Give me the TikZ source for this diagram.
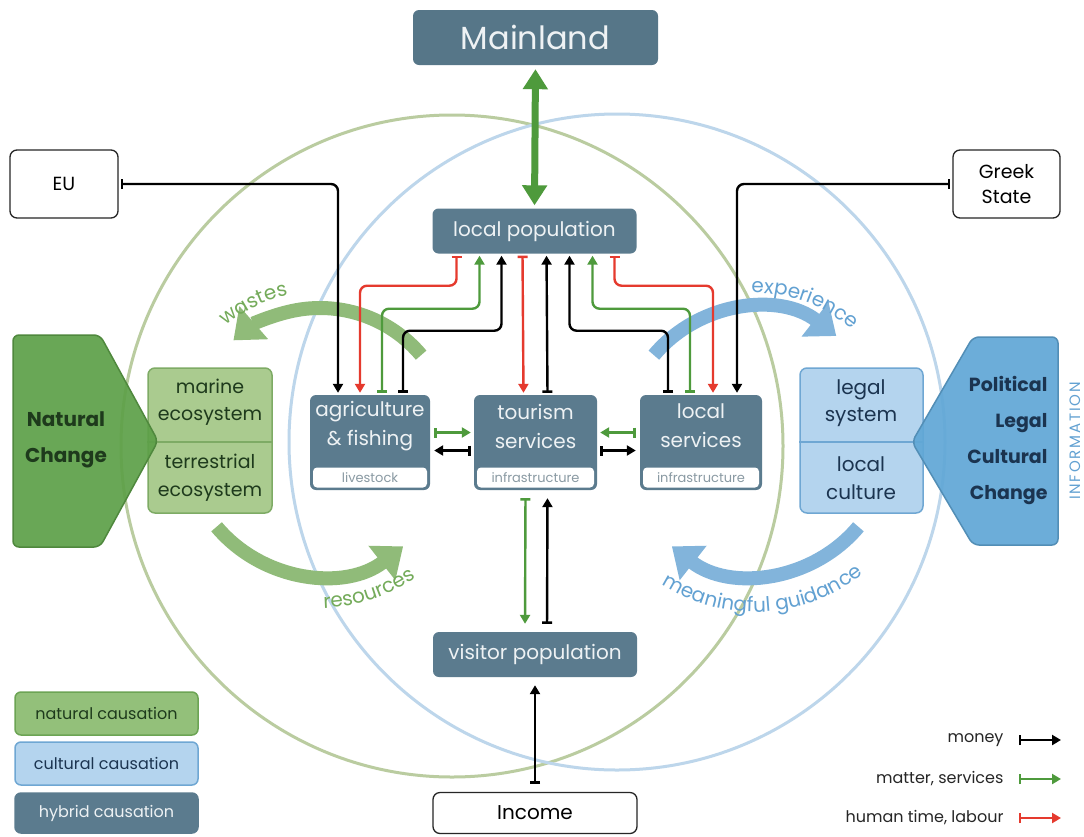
\documentclass[tikz,border=0pt]{standalone}
\usepackage{fontspec}
\setmainfont{Poppins}
\usetikzlibrary{arrows.meta,decorations.text,calc}
\definecolor{slate}{HTML}{5B7B8E}
\definecolor{slateD}{HTML}{567688}
\definecolor{agreen}{HTML}{4E9A3C}
\definecolor{ared}{HTML}{E53A2E}
\definecolor{bigG}{HTML}{90BB79}
\definecolor{bigB}{HTML}{82B4DB}
\definecolor{circG}{HTML}{BACCA0}
\definecolor{circB}{HTML}{BDD6EB}
\definecolor{natF}{HTML}{5DA048}
\definecolor{natD}{HTML}{1E3A1C}
\definecolor{ecoF}{HTML}{AACB8F}
\definecolor{ecoB}{HTML}{7EAB65}
\definecolor{polF}{HTML}{60A7D6}
\definecolor{polD}{HTML}{1B3450}
\definecolor{legF}{HTML}{B4D4EE}
\definecolor{legB}{HTML}{6FA7D3}
\definecolor{gtext}{HTML}{74AB5A}
\definecolor{btext}{HTML}{62A1D2}
\definecolor{lnatF}{HTML}{93C07A}
\definecolor{lnatB}{HTML}{6CA454}
\definecolor{greyT}{HTML}{8A9AA3}
\definecolor{lightT}{HTML}{EEF2F4}
\begin{document}
\begin{tikzpicture}[x=1pt,y=-1pt,
  hyb/.style={fill=slate, rounded corners=6pt, inner sep=0pt, text=lightT, align=center},
  strip/.style={fill=white, rounded corners=4pt, inner sep=0pt, minimum height=20pt, text=greyT, font=\fontsize{13}{13}\selectfont},
  wbox/.style={draw=black!85, line width=1.3pt, fill=white, rounded corners=7pt, inner sep=0pt, align=center},
  btxt/.style={font=\fontsize{20}{29}\selectfont, text=lightT, align=center},
  conn/.style={line width=2.4pt, rounded corners=7pt, shorten <=2pt, shorten >=2pt},
  fw/.style={conn, arrows={Bar[width=10pt]-Triangle[width=10pt,length=9pt]}},
  rv/.style={conn, arrows={Triangle[width=10pt,length=9pt]-Bar[width=10pt]}},
  bigarrG/.style={line width=14pt, draw=bigG, -{Triangle[width=42pt,length=27pt]}},
  bigarrB/.style={line width=14pt, draw=bigB, -{Triangle[width=42pt,length=27pt]}},
  legt/.style={anchor=east, text=black!85, font=\fontsize{16}{16}\selectfont},
  legbox/.style={rounded corners=6pt, line width=1.5pt, minimum width=183pt, inner sep=0pt, font=\fontsize{16}{16}\selectfont}
]
\useasboundingbox (0,0) rectangle (1084,836);
\fill[white] (0,0) rectangle (1084,836);

% circles
\coordinate (cG) at (452,446);
\coordinate (cB) at (617,442);
\draw[circG, line width=3pt] (cG) circle[radius=331];
\draw[circB, line width=3pt] (cB) circle[radius=328];

% big curved arrows
\coordinate (cL) at (320,440);
\coordinate (cR) at (755,440);
\draw[bigarrG] ($(cL)+(-40:132)$) arc (-40:-131:132);
\draw[bigarrG] ($(cL)+(-220:135)$) arc (-220:-308:135);
\draw[bigarrB] ($(cR)+(-140:132)$) arc (-140:-52:132);
\draw[bigarrB] ($(cR)+(40:135)$) arc (40:128:135);

\path[decorate, decoration={text along path, text align=center,
  text={|\fontsize{20}{20}\selectfont\color{gtext}|wastes}}]
  ($(cL)+(-146:148)$) arc (-146:-86:148);
\path[decorate, decoration={text along path, text align=center,
  text={|\fontsize{20}{20}\selectfont\color{gtext}|resources}}]
  ($(cL)+(-254:168)$) arc (-254:-322:168);
\path[decorate, decoration={text along path, text align=center,
  text={|\fontsize{20}{20}\selectfont\color{btext}|experience}}]
  ($(cR)+(-102:147)$) arc (-102:-38:147);
\path[decorate, decoration={text along path, text align=center,
  text={|\fontsize{20}{20}\selectfont\color{btext}|meaningful guidance}}]
  ($(cR)+(-226:172)$) arc (-226:-320:172);

% ecosystem box (natural)
\node[draw=ecoB, fill=ecoF, line width=1.5pt, rounded corners=7pt, minimum width=124pt, minimum height=145pt, inner sep=0pt] (eco) at (210,440.5) {};
\draw[ecoB, line width=1.5pt] (eco.west |- 0,442) -- (eco.east |- 0,442);
\node[font=\fontsize{19}{27}\selectfont, text=natD, align=center] (marine) at (210,402) {marine\\ecosystem};
\node[font=\fontsize{19}{28}\selectfont, text=natD, align=center] (terr) at (210,478) {terrestrial\\ecosystem};

% legal box (cultural)
\node[draw=legB, fill=legF, line width=1.5pt, rounded corners=7pt, minimum width=123pt, minimum height=145pt, inner sep=0pt] (legal) at (861.5,440.5) {};
\draw[legB, line width=1.5pt] (legal.west |- 0,442) -- (legal.east |- 0,442);
\node[font=\fontsize{20}{27}\selectfont, text=polD, align=center] (legsys) at (861,403) {legal\\system};
\node[font=\fontsize{20}{28}\selectfont, text=polD, align=center] (loccul) at (861,478) {local\\culture};

% Natural change pentagon
\draw[draw=natF!85!black, fill=natF, fill opacity=0.92, line width=1.5pt, rounded corners=6pt]
  (13,335) -- (100,335) -- (158,441) -- (100,547) -- (13,547) -- cycle;
\node[font=\bfseries\fontsize{20}{36}\selectfont, text=natD, align=center] (natC) at (66,440) {Natural\\Change};

% Political pentagon
\draw[draw=polF!85!black, fill=polF, fill opacity=0.92, line width=1.5pt, rounded corners=6pt]
  (1058,337) -- (973,337) -- (912,442) -- (973,545) -- (1058,545) -- cycle;
\node[font=\bfseries\fontsize{19}{36}\selectfont, text=polD, align=right, anchor=east] (polC) at (1051,440) {Political\\Legal\\Cultural\\Change};
\node[rotate=90, text=btext, font=\fontsize{15}{15}\selectfont\addfontfeature{LetterSpace=12}] (info) at (1075,441) {INFORMATION};

% top boxes
\node[hyb, fill=slateD, minimum width=245pt, minimum height=55pt, font=\fontsize{32}{32}\selectfont] (mainland) at (535.5,37.5) {Mainland};
\node[hyb, minimum width=204pt, minimum height=45pt, font=\fontsize{20}{20}\selectfont] (locpop) at (534.5,231) {local population};
\node[wbox, minimum width=108pt, minimum height=68pt, font=\fontsize{19}{19}\selectfont] (eu) at (64,184) {EU};
\node[wbox, minimum width=107pt, minimum height=68pt, font=\fontsize{19}{25}\selectfont] (greek) at (1006.5,184) {Greek\\State};

% sector boxes
\node[hyb, minimum width=120pt, minimum height=95pt] (agri) at (370,442.5) {};
\node[strip, minimum width=114pt] (agriS) at (370,477.5) {livestock};
\node[btxt] (agriT) at (370,426) {agriculture\\\& fishing};

\node[hyb, minimum width=123pt, minimum height=95pt] (tour) at (535.5,442.5) {};
\node[strip, minimum width=117pt] (tourS) at (535.5,477.5) {infrastructure};
\node[btxt] (tourT) at (535.5,426) {tourism\\services};

\node[hyb, minimum width=122pt, minimum height=95pt] (locs) at (701,442.5) {};
\node[strip, minimum width=116pt] (locsS) at (701,477.5) {infrastructure};
\node[btxt] (locsT) at (701,426) {local\\services};

\node[hyb, minimum width=204pt, minimum height=45pt, font=\fontsize{20}{20}\selectfont] (visit) at (535,654.5) {visitor population};
\node[wbox, minimum width=204pt, minimum height=41pt, font=\fontsize{20}{20}\selectfont] (income) at (535,813) {Income};

% Mainland link
\draw[agreen, line width=7pt, {Triangle[width=24pt,length=20pt]}-{Triangle[width=24pt,length=20pt]}, shorten <=4pt, shorten >=3pt] (mainland.south) -- (locpop.north);

% external money
\draw[black, fw] (eu.east) -| ([xshift=-32pt]agri.north);
\draw[black, fw] (greek.west) -| ([xshift=36pt]locs.north);

% local population links, left
\draw[ared, fw] ([xshift=-78pt]locpop.south) -- ++(0,32) -| ([xshift=-10pt]agri.north);
\draw[agreen, rv] ([xshift=-55pt]locpop.south) -- ++(0,55) -| ([xshift=12pt]agri.north);
\draw[black, rv] ([xshift=-33pt]locpop.south) -- ++(0,77) -| ([xshift=33pt]agri.north);
% middle
\draw[ared, fw] ([xshift=-12pt]locpop.south) -- ([xshift=-12pt]tour.north);
\draw[black, rv] ([xshift=12pt]locpop.south) -- ([xshift=12pt]tour.north);
% right
\draw[black, rv] ([xshift=35pt]locpop.south) -- ++(0,77) -| ([xshift=-33pt]locs.north);
\draw[agreen, rv] ([xshift=58pt]locpop.south) -- ++(0,55) -| ([xshift=-11pt]locs.north);
\draw[ared, fw] ([xshift=80pt]locpop.south) -- ++(0,32) -| ([xshift=12pt]locs.north);

% horizontal links
\draw[agreen, fw, shorten <=4pt, shorten >=3pt] ([yshift=10pt]agri.east) -- ([yshift=10pt]tour.west);
\draw[black, fw, shorten <=3pt, shorten >=4pt] ([yshift=-8pt]tour.west) -- ([yshift=-8pt]agri.east);
\draw[agreen, fw, shorten <=4pt, shorten >=3pt] ([yshift=10pt]locs.west) -- ([yshift=10pt]tour.east);
\draw[black, fw, shorten <=3pt, shorten >=4pt] ([yshift=-8pt]tour.east) -- ([yshift=-8pt]locs.west);

% vertical links to visitors
\draw[agreen, fw, shorten <=8pt, shorten >=8pt] ([xshift=-10pt]tour.south) -- ([xshift=-10pt]visit.north);
\draw[black, fw, shorten <=8pt, shorten >=8pt] ([xshift=12pt]visit.north) -- ([xshift=12pt]tour.south);
\draw[black, fw, shorten <=8pt, shorten >=8pt] (income.north) -- (visit.south);

% legend left
\node[legbox, draw=lnatB, fill=lnatF, minimum height=43pt, text=natD] (lnat) at (106.5,713.5) {natural causation};
\node[legbox, draw=legB, fill=legF, minimum height=43pt, text=polD] (lcul) at (106.5,763.5) {cultural causation};
\node[legbox, draw=slate, fill=slate, minimum height=40pt, text=lightT] (lhyb) at (106.5,813) {hybrid causation};

% legend right
\coordinate (m1) at (1019,740);
\coordinate (m2) at (1061,740);
\coordinate (s1) at (1019,779);
\coordinate (s2) at (1061,779);
\coordinate (h1) at (1019,818);
\coordinate (h2) at (1061,818);
\draw[black, fw, shorten <=0pt, shorten >=0pt] (m1) -- (m2);
\draw[agreen, fw, shorten <=0pt, shorten >=0pt] (s1) -- (s2);
\draw[ared, fw, shorten <=0pt, shorten >=0pt] (h1) -- (h2);
\node[legt] (lmoney) at (1007,740) {money};
\node[legt] (lmatter) at (1007,779) {matter, services};
\node[legt] (llabour) at (1007,818) {human time, labour};
\end{tikzpicture}
\end{document}
